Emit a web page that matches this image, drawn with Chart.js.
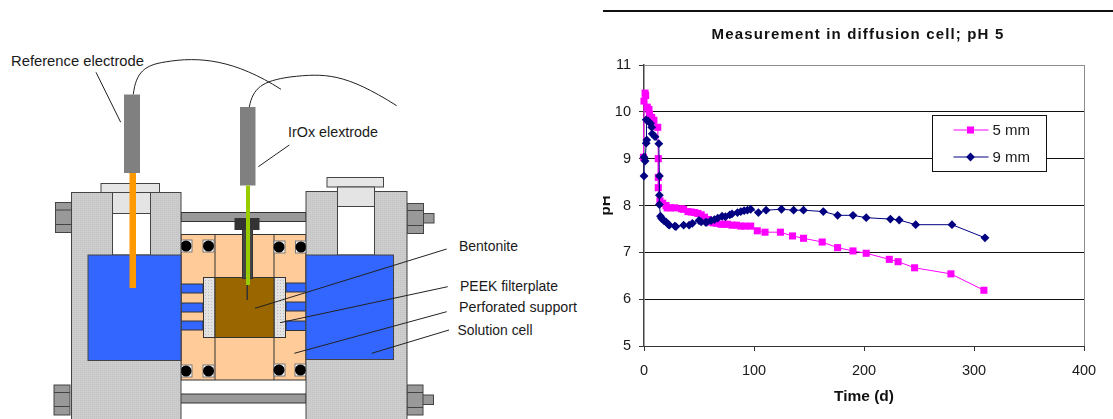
<!DOCTYPE html>
<html>
<head>
<meta charset="utf-8">
<title>Measurement in diffusion cell</title>
<script src="https://cdn.jsdelivr.net/npm/chart.js@4/dist/chart.umd.min.js"></script>
<style>
  html, body { margin:0; padding:0; background:#fff; }
  #page { position:relative; width:1113px; height:419px; overflow:hidden; }
  #cell { position:absolute; left:0; top:0; }
  #cell text { font-family:"Liberation Sans", Arial, sans-serif; font-size:14.5px; fill:#1a1a1a; dominant-baseline:central; }
  #wrap { position:absolute; left:603px; top:0; width:510px; height:419px; }
</style>
</head>
<body>
<div id="page">
  <svg id="cell" width="1113" height="419" xmlns="http://www.w3.org/2000/svg">
    <defs>
      <pattern id="steel" width="2" height="2" patternUnits="userSpaceOnUse">
        <rect width="2" height="2" fill="#cdcdcd"/>
        <rect width="1" height="1" fill="#c2c2c2"/>
      </pattern>
      <pattern id="speck" width="3" height="3" patternUnits="userSpaceOnUse">
        <rect width="3" height="3" fill="#e2e2e2"/>
        <rect x="1" y="1" width="1" height="1" fill="#bdbdbd"/>
      </pattern>
    </defs>

    <rect x="603" y="10" width="510" height="2" fill="#111"/>

    <!-- bars and centre block -->
    <g stroke="#333" stroke-width="1">
      <rect x="181" y="212.5" width="125" height="9" fill="#999"/>
      <rect x="180" y="394" width="126" height="9" fill="#999"/>
      <rect x="181" y="234.5" width="125" height="145.5" fill="#ffcc99"/>
      <line x1="215" y1="234.5" x2="215" y2="380"/>
      <line x1="274" y1="234.5" x2="274" y2="380"/>
      <rect x="181" y="284" width="22" height="9" fill="#3366ff"/>
      <rect x="181" y="303" width="22" height="9" fill="#3366ff"/>
      <rect x="181" y="321" width="22" height="9" fill="#3366ff"/>
      <rect x="286" y="283" width="20" height="9" fill="#3366ff"/>
      <rect x="286" y="302" width="20" height="9" fill="#3366ff"/>
      <rect x="286" y="321" width="20" height="9.5" fill="#3366ff"/>
      <rect x="203.5" y="277.5" width="11.5" height="60" fill="url(#speck)"/>
      <rect x="274" y="277.5" width="11.5" height="60" fill="url(#speck)"/>
      <rect x="215" y="277.5" width="59" height="60" fill="#996600"/>
      <rect x="242.5" y="229" width="10" height="49.5" fill="#444"/>
      <rect x="235" y="218.5" width="24" height="11" fill="#333"/>
    </g>

    <!-- o-rings -->
    <g fill="#fff" stroke="#777" stroke-width="1">
      <rect x="181" y="240" width="11" height="12"/>
      <rect x="203" y="240" width="11" height="12"/>
      <rect x="274" y="241" width="11" height="12"/>
      <rect x="295.5" y="241" width="11" height="12"/>
      <rect x="181" y="365" width="11" height="12"/>
      <rect x="203" y="365" width="11" height="12"/>
      <rect x="274" y="364" width="11" height="12"/>
      <rect x="295" y="364" width="11" height="12"/>
    </g>
    <g fill="#000">
      <circle cx="186" cy="246" r="5.5"/>
      <circle cx="208.5" cy="246" r="5.5"/>
      <circle cx="279" cy="247" r="5.5"/>
      <circle cx="301" cy="247" r="5.5"/>
      <circle cx="186" cy="371" r="5.5"/>
      <circle cx="208.5" cy="371" r="5.5"/>
      <circle cx="279" cy="370" r="5.5"/>
      <circle cx="300.5" cy="370" r="5.5"/>
    </g>

    <!-- side blocks -->
    <g stroke="#444" stroke-width="1">
      <rect x="55.5" y="202.5" width="16" height="30" fill="#999"/>
      <line x1="55.5" y1="210" x2="71.5" y2="210"/>
      <line x1="55.5" y1="224.5" x2="71.5" y2="224.5"/>
      <rect x="54" y="385" width="16" height="30" fill="#999"/>
      <line x1="54" y1="392.5" x2="70" y2="392.5"/>
      <line x1="54" y1="406.5" x2="70" y2="406.5"/>
      <rect x="423" y="213.5" width="11" height="9.5" fill="#999"/>
      <rect x="407" y="203.5" width="16.5" height="30" fill="#999"/>
      <line x1="407" y1="210.5" x2="423.5" y2="210.5"/>
      <line x1="407" y1="225.5" x2="423.5" y2="225.5"/>
      <rect x="422.5" y="395" width="11" height="9.5" fill="#999"/>
      <rect x="407" y="385" width="16" height="30" fill="#999"/>
      <line x1="407" y1="392.5" x2="423" y2="392.5"/>
      <line x1="407" y1="407.5" x2="423" y2="407.5"/>

      <rect x="101" y="183.5" width="58.5" height="9.5" fill="#e6e6e6"/>
      <rect x="71.5" y="192.5" width="109.5" height="240" fill="url(#steel)"/>
      <rect x="112.5" y="192.5" width="38" height="21" fill="#e4e4e4"/>
      <rect x="112.5" y="213.5" width="38" height="41.5" fill="#fff"/>
      <rect x="88" y="255" width="93" height="105.5" fill="#3366ff"/>

      <rect x="327" y="177.5" width="56.5" height="9.5" fill="#e6e6e6"/>
      <rect x="306" y="191.5" width="101" height="240" fill="url(#steel)"/>
      <rect x="337.5" y="187" width="37" height="19.5" fill="#e4e4e4"/>
      <rect x="337.5" y="206.5" width="37" height="48.5" fill="#fff"/>
      <rect x="306" y="255" width="87.5" height="104.5" fill="#3366ff"/>
    </g>

    <!-- electrodes -->
    <rect x="129.5" y="173" width="6.5" height="115" fill="#ff9900"/>
    <rect x="124" y="94.5" width="16" height="78.5" fill="#808080"/>
    <rect x="240" y="107" width="15.5" height="78.5" fill="#808080"/>
    <rect x="246" y="185.5" width="4" height="99.5" fill="#99cc00"/>
    <rect x="246.5" y="285" width="1.5" height="15" fill="#333"/>

    <!-- wires and leaders -->
    <g fill="none" stroke="#222" stroke-width="1">
      <path d="M133.3 94.3 C136 72 145 65 165 62 C200 56 235 60 281 89.3"/>
      <path d="M249.3 107 C253 88 262 81 290 77 C325 73 345 73 396.7 105.7"/>
      <line x1="96" y1="72.3" x2="120.7" y2="122.3"/>
      <line x1="289.3" y1="145" x2="258.3" y2="166.7"/>
      <line x1="446.7" y1="249" x2="255" y2="308.3"/>
      <line x1="447.7" y1="286.7" x2="280" y2="322.7"/>
      <line x1="446.7" y1="311.7" x2="294.3" y2="353.3"/>
      <line x1="449" y1="330" x2="371.7" y2="353.3"/>
    </g>

    <text x="11" y="61" textLength="133" lengthAdjust="spacingAndGlyphs">Reference electrode</text>
    <text x="288" y="132" textLength="90" lengthAdjust="spacingAndGlyphs">IrOx elextrode</text>
    <text x="459" y="246" textLength="59" lengthAdjust="spacingAndGlyphs">Bentonite</text>
    <text x="460" y="286" textLength="98" lengthAdjust="spacingAndGlyphs">PEEK filterplate</text>
    <text x="459" y="307" textLength="118" lengthAdjust="spacingAndGlyphs">Perforated support</text>
    <text x="457.5" y="330" textLength="75" lengthAdjust="spacingAndGlyphs">Solution cell</text>
  </svg>
  <div id="wrap"><canvas id="ph"></canvas></div>
</div>

<script>
const time5 = [-1,-0.5,0,1,1.5,3,4.5,5,7,9,12.5,13,13,13,14.5,17,20,21,24,28,34,36,40,43,46,49,52,55,58,60,63,66,70,73,76,80,84,88,92,97,103,110,124,135,145,162,176,190,202,223,231,246,279,309];
const ph5 = [8.53,9.03,10.23,10.4,10.35,10.1,10.05,9.95,9.88,9.82,9.67,9.0,8.6,8.38,8.1,8.05,8.0,7.95,7.95,7.95,7.93,7.92,7.87,7.86,7.85,7.83,7.8,7.75,7.7,7.65,7.63,7.62,7.6,7.6,7.6,7.58,7.58,7.56,7.56,7.56,7.46,7.43,7.43,7.35,7.3,7.22,7.1,7.03,6.98,6.85,6.8,6.67,6.54,6.19];
const time9 = [0,0,1,2,2.5,2,4,6,7,7.5,10,13.5,14,14,14,15,16,18,20,22,23,28,29,36,41,44,50,52,56,57,61,64,67,71,74,78,80,85,88,91,94,97,104,111,125,136,145,163,176,190,202,224,232,247,280,310];
const ph9 = [8.63,9.03,8.95,9.33,9.4,9.83,9.8,9.75,9.67,9.53,9.47,9.32,8.63,8.22,8.02,7.77,7.72,7.68,7.65,7.6,7.58,7.56,7.55,7.58,7.58,7.62,7.68,7.65,7.64,7.64,7.68,7.7,7.73,7.77,7.76,7.8,7.82,7.85,7.87,7.89,7.9,7.92,7.85,7.9,7.92,7.9,7.9,7.87,7.79,7.79,7.74,7.71,7.69,7.59,7.59,7.31];

const chartTitle = 'Measurement in diffusion cell; pH 5';
const xTitle = 'Time (d)';
const yTitle = 'pH';
const FONT = '"Liberation Sans", Arial, sans-serif';
const pairs = (xs, ys) => xs.map((x, i) => ({ x, y: ys[i] }));

// the title in the source is letter spaced and sits left of the plot centre,
// chart.js has no option for either so wrap its draw
const spacedTitle = {
  id: 'spacedTitle',
  afterLayout(chart) {
    const t = chart.titleBlock;
    if (!t || t._spaced) return;
    const draw = t.draw;
    t.draw = function () {
      const ctx = chart.ctx;
      ctx.save();
      ctx.translate(14.5, 0);
      ctx.letterSpacing = '1.15px';
      draw.call(t);
      ctx.letterSpacing = '0px';
      ctx.restore();
    };
    t._spaced = true;
  }
};

// boxed legend inside the plot, excel style: line through the marker
const boxLegend = {
  id: 'boxLegend',
  afterDatasetsDraw(chart) {
    const ctx = chart.ctx;
    const x = 329.5, y = 115.5, w = 114, h = 56;
    ctx.save();
    ctx.fillStyle = '#fff';
    ctx.strokeStyle = '#111';
    ctx.lineWidth = 1;
    ctx.fillRect(x, y, w, h);
    ctx.strokeRect(x, y, w, h);
    ctx.font = '15px ' + FONT;
    ctx.textBaseline = 'middle';
    chart.data.datasets.forEach((ds, i) => {
      const ly = y + 14.5 + i * 27;
      ctx.strokeStyle = ds.borderColor;
      ctx.beginPath();
      ctx.moveTo(x + 21, ly);
      ctx.lineTo(x + 56, ly);
      ctx.stroke();
      ctx.fillStyle = ds.borderColor;
      Chart.helpers.drawPoint(ctx, { pointStyle: ds.pointStyle, radius: ds.pointRadius, borderWidth: 0 }, x + 38, ly);
      ctx.fillStyle = '#1a1a1a';
      ctx.fillText(ds.label, x + 60, ly + 1);
    });
    ctx.restore();
  }
};

function init() {
  const canvas = document.getElementById('ph');
  new Chart(canvas.getContext('2d'), {
    type: 'scatter',
    data: {
      datasets: [
        { label: '5 mm', data: pairs(time5, ph5), showLine: true, order: 2, clip: false,
          borderColor: '#ff00ff', backgroundColor: '#ff00ff', borderWidth: 1,
          pointStyle: 'rect', pointRadius: 5, pointBorderWidth: 0, tension: 0 },
        { label: '9 mm', data: pairs(time9, ph9), showLine: true, order: 1, clip: false,
          borderColor: '#000080', backgroundColor: '#000080', borderWidth: 1,
          pointStyle: 'rectRot', pointRadius: 4.4, pointBorderWidth: 0, tension: 0 }
      ]
    },
    options: {
      responsive: true,
      maintainAspectRatio: false,
      animation: false,
      layout: { padding: { left: 0, right: 29, top: 0, bottom: 0 } },
      scales: {
        x: {
          type: 'linear', min: 0, max: 400,
          afterFit: (s) => { s.height = 73; },
          ticks: { stepSize: 100, color: '#1a1a1a', font: { family: FONT, size: 14.5 }, padding: 11, maxRotation: 0 },
          grid: {
            color: (c) => c.tick && c.tick.value === 400 ? '#8c8c8c' : 'rgba(0,0,0,0)',
            tickColor: '#333', tickLength: 5, lineWidth: 1
          },
          border: { color: '#333', width: 1 },
          title: { display: true, text: xTitle, color: '#111', font: { family: FONT, size: 15.5, weight: 'bold' }, padding: { top: 10, bottom: 13 } }
        },
        y: {
          min: 5, max: 11,
          afterFit: (s) => { s.width = 41; },
          ticks: { stepSize: 1, color: '#1a1a1a', font: { family: FONT, size: 14.5 }, padding: 8 },
          grid: {
            color: (c) => c.tick && c.tick.value === 11 ? '#8c8c8c' : '#111',
            tickColor: '#333', tickLength: 5, lineWidth: 1
          },
          border: { color: '#444', width: 1.5 },
          title: { display: true, text: yTitle, color: '#111', font: { family: FONT, size: 15, weight: 'bold' }, padding: { top: -6, bottom: 0 } }
        }
      },
      plugins: {
        legend: { display: false },
        tooltip: { enabled: false },
        title: { display: true, text: chartTitle, color: '#111', font: { family: FONT, size: 15, weight: 'bold' }, padding: { top: 26, bottom: 21 } }
      }
    },
    plugins: [spacedTitle, boxLegend]
  });
}

window.addEventListener('DOMContentLoaded', init);
</script>
</body>
</html>
